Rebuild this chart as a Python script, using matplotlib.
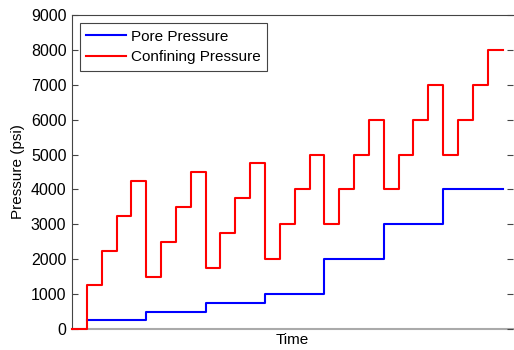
import numpy as np
import matplotlib
matplotlib.use("Agg")
import matplotlib.pyplot as plt

plt.rcParams['font.family'] = ['Liberation Sans', 'DejaVu Sans']

# pressure held over each loading stage (psi), stage k spans [k, k+1)
confining = [0, 1250, 2250, 3250, 4250,
             1500, 2500, 3500, 4500,
             1750, 2750, 3750, 4750,
             2000, 3000, 4000, 5000,
             3000, 4000, 5000, 6000,
             4000, 5000, 6000, 7000,
             5000, 6000, 7000, 8000]
pore = [0, 250, 250, 250, 250,
        500, 500, 500, 500,
        750, 750, 750, 750,
        1000, 1000, 1000, 1000,
        2000, 2000, 2000, 2000,
        3000, 3000, 3000, 3000,
        4000, 4000, 4000, 4000]
y_ticks = [0, 1000, 2000, 3000, 4000, 5000, 6000, 7000, 8000, 9000]

t = np.arange(len(confining) + 1)
conf_y = confining + [confining[-1]]
pore_y = pore + [pore[-1]]

fig = plt.figure(figsize=(5.14, 3.5), dpi=100)
ax = fig.add_axes([0.140, 0.06, 0.858, 0.897])

for side in ['left', 'top']:
    ax.spines[side].set_color('#444444')
ax.spines['right'].set_visible(False)
ax.spines['bottom'].set_color('#aaaaaa')
ax.spines['bottom'].set_linewidth(1.5)
ax.spines['bottom'].set_zorder(1)

ax.plot(t[1:], pore_y[1:], drawstyle='steps-post', color='#0000ff', lw=1.5,
        label='Pore Pressure', clip_on=False, zorder=3)
ax.plot(t, conf_y, drawstyle='steps-post', color='#ff0000', lw=1.5,
        label='Confining Pressure', clip_on=False, zorder=3)

ax.set_xlim(0, 29.7)
ax.set_ylim(0, 9000)
ax.set_yticks(y_ticks)
ax.set_xticks([])
ax.tick_params(axis='y', direction='in', length=4, right=True, labelsize=11.5,
               color='#444444', pad=4)
ax.set_xlabel('Time', fontsize=11, labelpad=3)
ax.set_ylabel('Pressure (psi)', fontsize=11, labelpad=4)

leg = ax.legend(loc='upper left', fontsize=11, fancybox=False,
                framealpha=1, edgecolor='#444444', handlelength=2.6,
                handletextpad=0.3, borderaxespad=0.5, labelspacing=0.45,
                borderpad=0.45)
leg.get_frame().set_linewidth(0.8)

fig.savefig('out.png', dpi=100)
